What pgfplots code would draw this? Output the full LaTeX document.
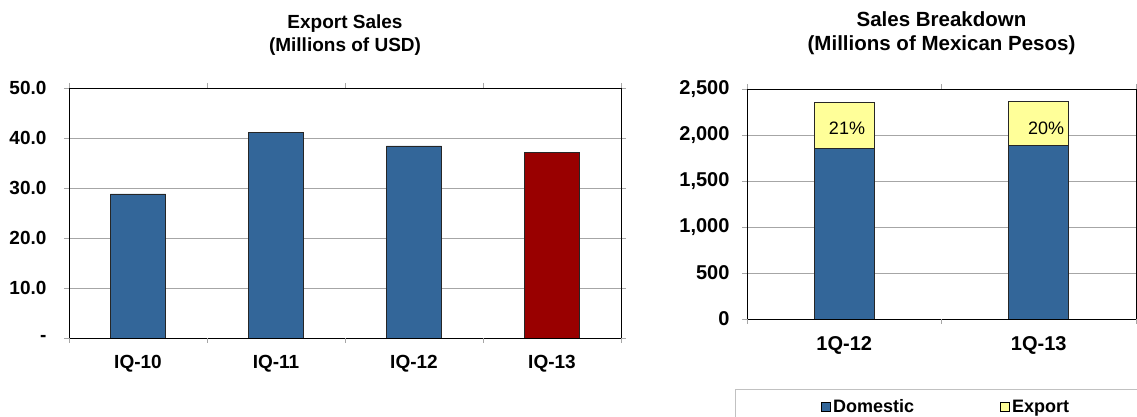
\documentclass[border=0pt]{standalone}
\usepackage{pgfplots}
\pgfplotsset{compat=1.18}
\usepackage{fontspec}
\setmainfont{Liberation Sans}
\definecolor{barblue}{HTML}{336699}
\definecolor{barred}{HTML}{990000}
\definecolor{baryellow}{HTML}{FFFF99}
\definecolor{gridgray}{HTML}{A6A6A6}
\begin{document}
\begin{tikzpicture}
\useasboundingbox (0pt,0pt) rectangle (1137pt,417pt);
\pgfplotsset{
  common/.style={
    scale only axis,
    anchor=south west,
    axis line style={black, line width=0.9pt},
    ymajorgrids,
    grid style={gridgray, line width=0.8pt},
    tick align=outside,
    major tick length=5pt,
    tick style={gridgray, line width=0.8pt},
    x tick style={draw=none},
    /pgf/number format/assume math mode=true,
    xticklabel style={yshift=-9pt},
    title style={align=center, anchor=south},
    extra x tick style={grid=none, x tick style={draw=gridgray}, major tick length=5pt},
    extra x tick labels={},
  }
}
% Left chart
\begin{axis}[common,
  at={(69pt,79pt)}, width=552pt, height=250pt,
  ticklabel style={font=\fontsize{19}{22}\selectfont\bfseries},
  yticklabel style={xshift=-14pt},
  title style={font=\fontsize{19}{23}\selectfont\bfseries},
  xmin=-0.5, xmax=3.5, ymin=0, ymax=50,
  xtick={0,1,2,3}, xticklabels={IQ-10,IQ-11,IQ-12,IQ-13},
  extra x ticks={-0.5,0.5,1.5,2.5,3.5},
  ytick={0,10,20,30,40,50}, yticklabels={-,10.0,20.0,30.0,40.0,50.0},
  title={Export Sales\\(Millions of USD)},
  title style={at={(0.5,1)}, yshift=23pt},
  ybar, bar width=0.4, bar shift=0pt,
]
\addplot[fill=barblue, draw=black!85, line width=0.8pt] coordinates {(0,28.8) (1,41.1) (2,38.4)};
\addplot[fill=barred, draw=black!85, line width=0.8pt] coordinates {(3,37.1)};
\end{axis}
% Right chart
\begin{axis}[common,
  at={(747pt,98pt)}, width=389pt, height=230pt,
  ticklabel style={font=\fontsize{20}{23}\selectfont\bfseries},
  yticklabel style={xshift=-9pt, /pgf/number format/1000 sep={,}},
  title style={font=\fontsize{20.5}{24}\selectfont\bfseries},
  xmin=-0.5, xmax=1.5, ymin=0, ymax=2500,
  xtick={0,1}, xticklabels={1Q-12,1Q-13},
  extra x ticks={-0.5,0.5,1.5},
  ytick={0,500,1000,1500,2000,2500},
  title={Sales Breakdown\\(Millions of Mexican Pesos)},
  title style={at={(0.5,1)}, yshift=25pt},
  ybar stacked, bar width=0.308,
  legend columns=2,
  legend style={at={(-12/389,-70/230)}, anchor=north west, draw=gridgray!70, line width=0.8pt,
    font=\fontsize{18}{21}\selectfont\bfseries, inner xsep=86pt, inner ysep=8pt,
    /tikz/every even column/.append style={column sep=84pt}},
  legend image code/.code={\draw[#1, draw=black, line width=0.8pt] (0pt,-4.5pt) rectangle (9pt,4.5pt);},
]
\addplot[fill=barblue, draw=black!85, line width=0.8pt] coordinates {(0,1852) (1,1885)};
\addlegendentry{Domestic}
\addplot[fill=baryellow, draw=black!85, line width=0.8pt] coordinates {(0,500) (1,475)};
\addlegendentry{Export}
\end{axis}
\node[font=\fontsize{18}{21}\selectfont] at (847pt,289pt) {21\%};
\node[font=\fontsize{18}{21}\selectfont] at (1046pt,289pt) {20\%};
\end{tikzpicture}
\end{document}
